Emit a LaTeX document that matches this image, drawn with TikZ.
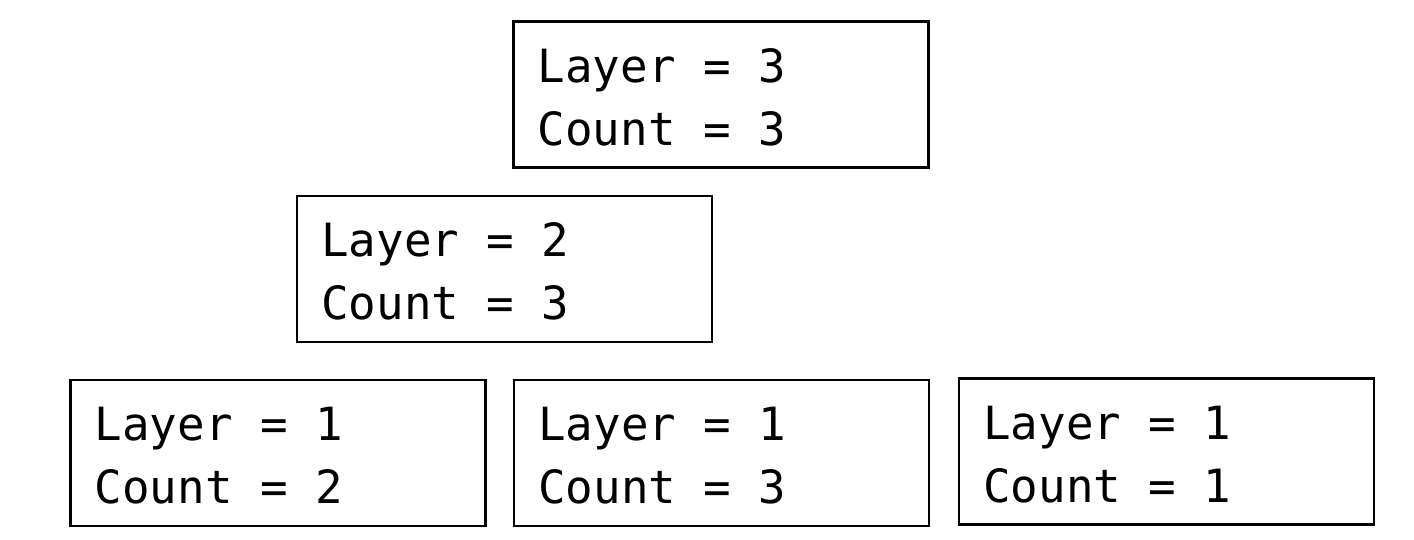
\documentclass[tikz,border=0pt]{standalone}
\usepackage{fontspec}
\setmonofont{DejaVu Sans Mono}
\usetikzlibrary{calc}
\tikzset{
  box/.style={draw=black, line width=1.1pt, rectangle, inner sep=0pt, minimum width=207.5pt, minimum height=73pt},
  txt/.style={font=\ttfamily\fontsize{22.9}{31.5}\selectfont, align=left, inner sep=0pt, anchor=base west}
}
\begin{document}
\begin{tikzpicture}[x=0.5pt, y=-0.5pt]
\useasboundingbox (0,0) rectangle (1414,540);
\node[box] (b1) at (721,94.5) {};
\node[box] (b2) at (504.5,269) {};
\node[box] (b3) at (278,453) {};
\node[box] (b4) at (721.5,453) {};
\node[box] (b5) at (1166.5,451.5) {};
\node[txt] (t1) at ($(b1.north west)+(25,125)$) {Layer = 3\\Count = 3};
\node[txt] (t2) at ($(b2.north west)+(25,125)$) {Layer = 2\\Count = 3};
\node[txt] (t3) at ($(b3.north west)+(25,125)$) {Layer = 1\\Count = 2};
\node[txt] (t4) at ($(b4.north west)+(25,125)$) {Layer = 1\\Count = 3};
\node[txt] (t5) at ($(b5.north west)+(25,125)$) {Layer = 1\\Count = 1};
\end{tikzpicture}
\end{document}
